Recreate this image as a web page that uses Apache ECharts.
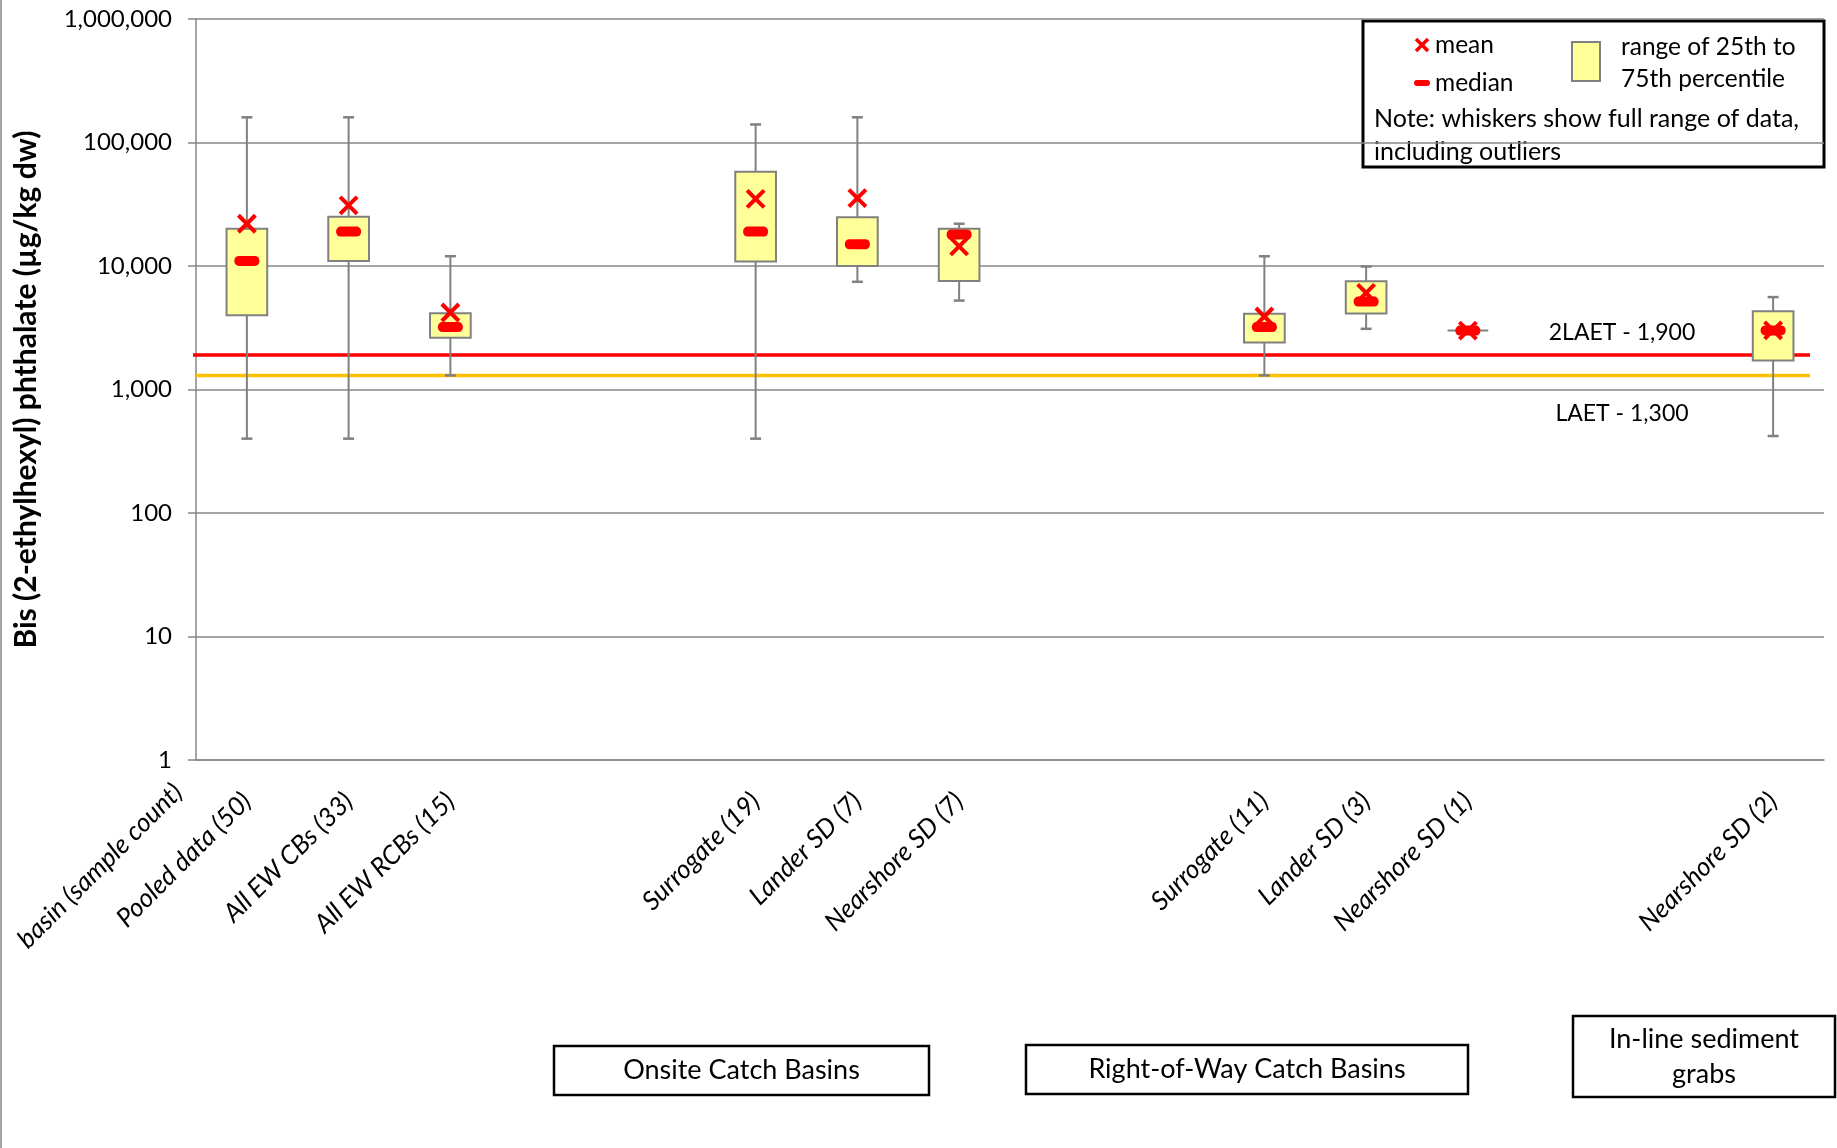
<!DOCTYPE html>
<html>
<head>
<meta charset="utf-8">
<script src="https://cdn.jsdelivr.net/npm/echarts@6/dist/echarts.min.js"></script>
<style>
  html, body { margin: 0; padding: 0; background: #ffffff; }
  #chart { width: 1837px; height: 1148px; }
</style>
</head>
<body>
<div id="chart"></div>
<script>
// Basin groups along the category axis (blank slots separate the groups)
const categories = [
  'Pooled data (50)', 'All EW CBs (33)', 'All EW RCBs (15)', '', '',
  'Surrogate (19)', 'Lander SD (7)', 'Nearshore SD (7)', '', '',
  'Surrogate (11)', 'Lander SD (3)', 'Nearshore SD (1)', '', '',
  'Nearshore SD (2)'
];

// Bis (2-ethylhexyl) phthalate statistics, µg/kg dw
const minValues    = [400,    400,    1300,  null, null, 400,    7450,   5250,  null, null, 1300,  3100, 3000, null, null, 420];
const q1Values     = [4000,   11000,  2620,  null, null, 10900,  10000,  7550,  null, null, 2400,  4130, 3000, null, null, 1715];
const medianValues = [11000,  19000,  3200,  null, null, 19000,  15000,  18000, null, null, 3200,  5150, 3000, null, null, 3010];
const q3Values     = [20000,  25000,  4150,  null, null, 58000,  24800,  20000, null, null, 4100,  7530, 3000, null, null, 4305];
const maxValues    = [160000, 160000, 12000, null, null, 140000, 160000, 22000, null, null, 12000, 9900, 3000, null, null, 5600];
const meanValues   = [22000,  31000,  4200,  null, null, 35000,  35500,  14400, null, null, 3900,  6050, 3000, null, null, 3010];

// Screening levels
const thresholdValues = [1900, 1300];
const thresholdLabels = ['2LAET - 1,900', 'LAET - 1,300'];

// Y axis decades
const yTickValues = [1, 10, 100, 1000, 10000, 100000, 1000000];

// Group captions under the axis
const groupCaptions = ['Onsite Catch Basins', 'Right-of-Way Catch Basins', 'In-line sediment\ngrabs'];

const FONT = 'Lato, "Open Sans", "Liberation Sans", sans-serif';
const GRID_GRAY = '#868686';
const BOX_GRAY = '#808080';
const RED = '#FF0000';
const ORANGE = '#FFC000';
const YELLOW = '#FFFF99';

const boxData = [];
categories.forEach(function (c, i) {
  if (medianValues[i] == null) return;
  boxData.push([i, minValues[i], q1Values[i], medianValues[i], q3Values[i], maxValues[i], meanValues[i]]);
});

function renderBox(params, api) {
  const i = api.value(0);
  const pt = function (v) { return api.coord([i, v]); };
  const pMin = pt(api.value(1));
  const pQ1 = pt(api.value(2));
  const pMed = pt(api.value(3));
  const pQ3 = pt(api.value(4));
  const pMax = pt(api.value(5));
  const pMean = pt(api.value(6));
  const cx = pMed[0];
  const half = api.size([1, 0])[0] * 0.2;
  const cap = 5.5;
  const xr = 8.5;
  return {
    type: 'group',
    children: [
      { type: 'line', shape: { x1: cx, y1: pMax[1], x2: cx, y2: pMin[1] },
        style: { stroke: BOX_GRAY, lineWidth: 2 } },
      { type: 'line', shape: { x1: cx - cap, y1: pMax[1], x2: cx + cap, y2: pMax[1] },
        style: { stroke: BOX_GRAY, lineWidth: 2.5 } },
      { type: 'line', shape: { x1: cx - cap, y1: pMin[1], x2: cx + cap, y2: pMin[1] },
        style: { stroke: BOX_GRAY, lineWidth: 2.5 } },
      { type: 'rect', shape: { x: cx - half, y: pQ3[1], width: half * 2, height: pQ1[1] - pQ3[1] },
        style: { fill: YELLOW, stroke: BOX_GRAY, lineWidth: 2 } },
      { type: 'rect', shape: { x: cx - 12.5, y: pMed[1] - 5, width: 25, height: 10, r: 4.5 },
        style: { fill: RED } },
      { type: 'line', shape: { x1: cx - xr, y1: pMean[1] - xr, x2: cx + xr, y2: pMean[1] + xr },
        style: { stroke: RED, lineWidth: 4 } },
      { type: 'line', shape: { x1: cx - xr, y1: pMean[1] + xr, x2: cx + xr, y2: pMean[1] - xr },
        style: { stroke: RED, lineWidth: 4 } }
    ]
  };
}

function thresholdSeries(idx, color, leftPad, labelDy) {
  return {
    type: 'custom',
    name: thresholdLabels[idx],
    data: [[0, thresholdValues[idx]]],
    encode: { x: 0, y: 1 },
    z: 5,
    silent: true,
    renderItem: function (params, api) {
      const cs = params.coordSys;
      const y = api.coord([0, api.value(1)])[1];
      return {
        type: 'group',
        children: [
          { type: 'line', shape: { x1: cs.x - leftPad, y1: y, x2: cs.x + cs.width - 14, y2: y },
            style: { stroke: color, lineWidth: 3.5 } },
          { type: 'text', x: cs.x + cs.width - 202, y: y + labelDy,
            style: { text: thresholdLabels[idx], fill: '#000', font: '23px ' + FONT,
                     align: 'center', verticalAlign: 'middle' } }
        ]
      };
    }
  };
}

function caption(x, y, w, h, text) {
  return {
    type: 'group', x: x, y: y, z: 100,
    children: [
      { type: 'rect', shape: { x: 0, y: 0, width: w, height: h },
        style: { fill: '#fff', stroke: '#000', lineWidth: 2.5 } },
      { type: 'text', x: w / 2, y: h / 2,
        style: { text: text, fill: '#000', font: '27px ' + FONT, align: 'center',
                 verticalAlign: 'middle', lineHeight: 35 } }
    ]
  };
}

const legendFont = '24.5px ' + FONT;
const noteFont = '25px ' + FONT;
const legendGroup = {
  type: 'group', x: 1363, y: 21, z: 100,
  children: [
    { type: 'rect', shape: { x: 0, y: 0, width: 461, height: 146 },
      style: { fill: '#fff', stroke: '#000', lineWidth: 3 } },
    { type: 'line', shape: { x1: 53, y1: 18, x2: 65, y2: 30 }, style: { stroke: RED, lineWidth: 3.5 } },
    { type: 'line', shape: { x1: 53, y1: 30, x2: 65, y2: 18 }, style: { stroke: RED, lineWidth: 3.5 } },
    { type: 'text', x: 72, y: 24, style: { text: 'mean', fill: '#000', font: legendFont, verticalAlign: 'middle' } },
    { type: 'rect', shape: { x: 51, y: 59, width: 16, height: 6, r: 3 }, style: { fill: RED } },
    { type: 'text', x: 72, y: 62, style: { text: 'median', fill: '#000', font: legendFont, verticalAlign: 'middle' } },
    { type: 'rect', shape: { x: 209, y: 21, width: 28, height: 39 },
      style: { fill: YELLOW, stroke: BOX_GRAY, lineWidth: 2 } },
    { type: 'text', x: 258, y: 26, style: { text: 'range of 25th to', fill: '#000', font: legendFont, verticalAlign: 'middle' } },
    { type: 'text', x: 258, y: 58, style: { text: '75th percentile', fill: '#000', font: legendFont, verticalAlign: 'middle' } },
    { type: 'text', x: 11, y: 98, style: { text: 'Note: whiskers show full range of data,', fill: '#000', font: noteFont, verticalAlign: 'middle' } },
    { type: 'text', x: 11, y: 131, style: { text: 'including outliers', fill: '#000', font: noteFont, verticalAlign: 'middle' } }
  ]
};

const chart = echarts.init(document.getElementById('chart'), null, { renderer: 'canvas' });

chart.setOption({
  backgroundColor: '#ffffff',
  animation: false,
  grid: { left: 196, right: 13, top: 19, bottom: 388 },
  xAxis: {
    type: 'category',
    data: categories,
    boundaryGap: true,
    axisLine: { lineStyle: { color: GRID_GRAY, width: 1.5 } },
    axisTick: { show: false },
    splitLine: { show: false },
    axisLabel: {
      interval: 0, rotate: 45, margin: 37,
      fontFamily: FONT, fontSize: 26, fontStyle: 'italic', color: '#000'
    }
  },
  yAxis: {
    type: 'log',
    logBase: 10,
    min: yTickValues[0],
    max: yTickValues[yTickValues.length - 1],
    splitNumber: 6,
    name: 'Bis (2-ethylhexyl) phthalate (µg/kg dw)',
    nameLocation: 'middle',
    nameGap: 155,
    nameTextStyle: { fontFamily: FONT, fontSize: 30, fontWeight: 'bold', color: '#000' },
    axisLine: { show: true, lineStyle: { color: GRID_GRAY, width: 1.5 } },
    axisTick: { show: true, length: 8, lineStyle: { color: GRID_GRAY, width: 1.5 } },
    splitLine: { show: true, lineStyle: { color: GRID_GRAY, width: 1.5 } },
    axisLabel: {
      margin: 24, fontFamily: FONT, fontSize: 24, color: '#000',
      formatter: function (v) { return Math.round(v).toLocaleString('en-US'); }
    }
  },
  series: [
    thresholdSeries(0, RED, 3, -22),
    thresholdSeries(1, ORANGE, 0, 38),
    {
      type: 'custom',
      name: 'Bis (2-ethylhexyl) phthalate',
      data: boxData,
      encode: { x: 0, y: [1, 2, 3, 4, 5, 6] },
      z: 10,
      renderItem: renderBox
    }
  ],
  graphic: [
    { type: 'line', shape: { x1: 1, y1: 0, x2: 1, y2: 1148 }, style: { stroke: GRID_GRAY, lineWidth: 1.5 } },
    { type: 'text', x: 178, y: 788, rotation: Math.PI / 4,
      style: { text: 'basin (sample count)', fill: '#000', font: 'italic 26px ' + FONT,
               align: 'right', verticalAlign: 'middle' } },
    legendGroup,
    caption(554, 1046, 375, 49, groupCaptions[0]),
    caption(1026, 1045, 442, 49, groupCaptions[1]),
    caption(1573, 1016, 262, 81, groupCaptions[2])
  ]
});
</script>
</body>
</html>
